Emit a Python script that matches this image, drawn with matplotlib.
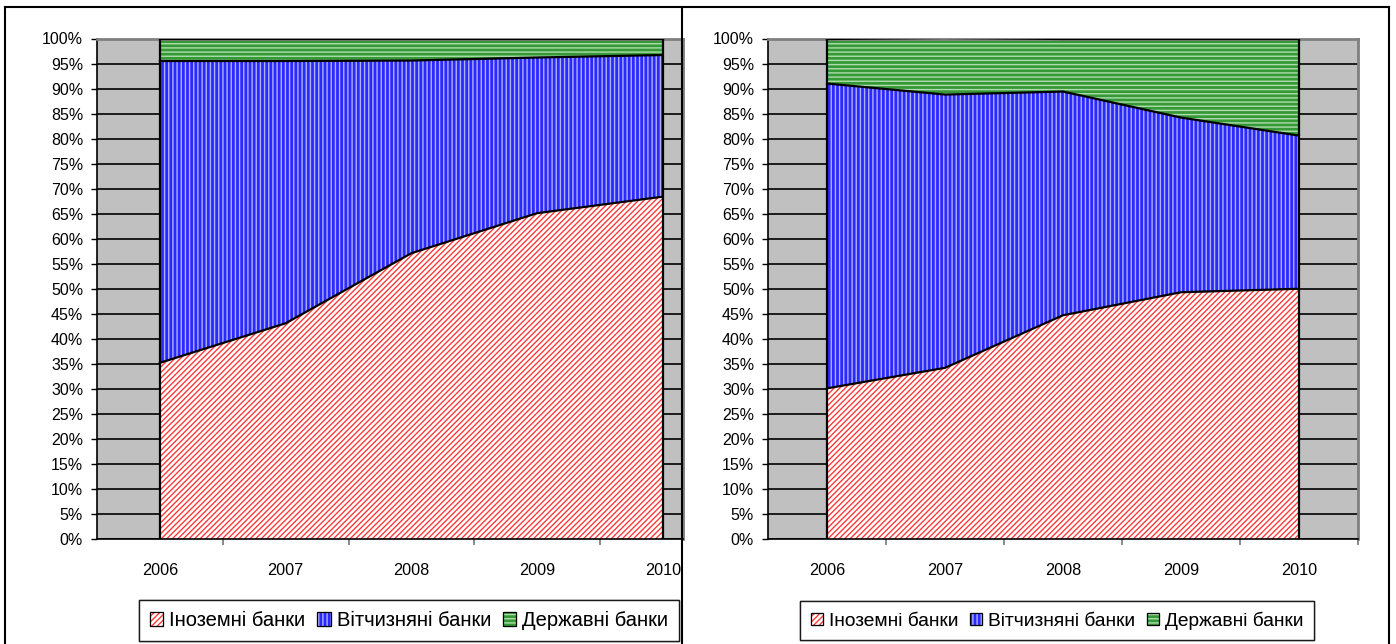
import matplotlib
matplotlib.use('Agg')
import matplotlib.pyplot as plt
import numpy as np
from matplotlib.patches import Patch, Rectangle
from matplotlib.lines import Line2D
from matplotlib.legend_handler import HandlerBase

plt.rcParams['font.family'] = ['Liberation Sans', 'DejaVu Sans']
plt.rcParams['hatch.linewidth'] = 1.0

years = ['2006', '2007', '2008', '2009', '2010']
series_names = ['Іноземні банки', 'Вітчизняні банки', 'Державні банки']

# left chart, share in %
left_foreign = [35.2, 43.1, 57.1, 65.1, 68.4]
left_domestic = [60.3, 52.4, 38.5, 31.1, 28.3]
left_state = [4.5, 4.5, 4.4, 3.8, 3.3]

# right chart, share in %
right_foreign = [30.1, 34.2, 44.7, 49.3, 50.0]
right_domestic = [60.9, 54.6, 44.7, 34.9, 30.6]
right_state = [9.0, 11.2, 10.6, 15.8, 19.4]

styles = [
    dict(facecolor='white', edgecolor='#ff3b3b', hatch='//////'),
    dict(facecolor='#2a2aff', edgecolor='#b0b0ff', hatch='||||'),
    dict(facecolor='#359a35', edgecolor='#b0dcb0', hatch='----'),
]

W, H = 1396, 644


def px_rect(x0, y0, x1, y1):
    # pixel box (top-left origin) -> figure fraction [l, b, w, h]
    return [x0 / W, 1 - y1 / H, (x1 - x0) / W, (y1 - y0) / H]


class HatchBox(HandlerBase):
    # hatched square with a thin black frame
    def create_artists(self, legend, orig_handle, xdescent, ydescent, width, height, fontsize, trans):
        fill = Rectangle((-xdescent, -ydescent), width, height, facecolor=orig_handle.get_facecolor(),
                         edgecolor=orig_handle.get_edgecolor(), hatch=orig_handle.get_hatch(),
                         linewidth=0, transform=trans)
        frame = Rectangle((-xdescent, -ydescent), width, height, facecolor='none',
                          edgecolor='black', linewidth=0.9, transform=trans)
        return [fill, frame]


def draw_chart(ax, foreign, domestic, state, xmax):
    x = np.arange(len(years))
    ax.set_facecolor('#c0c0c0')
    bottom = np.zeros(len(years))
    for vals, st in zip([foreign, domestic, state], styles):
        top = bottom + np.array(vals)
        ax.fill_between(x, bottom, top, linewidth=0, zorder=2, **st)
        ax.plot(x, top, color='black', lw=1.6, zorder=3)
        bottom = top
    ax.vlines([x[0], x[-1]], 0, [bottom[0], bottom[-1]], color='black', lw=1.6, zorder=3)

    yt = np.arange(0, 101, 5)
    ax.set_yticks(yt)
    ax.set_yticklabels([f'{v}%' for v in yt], fontsize=11.5)
    ax.yaxis.grid(True, color='black', lw=1.2)
    ax.set_axisbelow(True)
    ax.tick_params(axis='y', direction='out', length=4, width=1, pad=6, color='black')

    ax.set_xticks(x)
    ax.set_xticklabels(years, fontsize=11.7)
    ax.tick_params(axis='x', which='major', length=0, pad=17)
    ax.set_xticks(x + 0.5, minor=True)
    ax.tick_params(axis='x', which='minor', direction='out', length=4, width=1.2, color='#777777')

    ax.set_xlim(-0.5, xmax)
    ax.set_ylim(0, 100)

    for s in ['top', 'right']:
        ax.spines[s].set_color('#808080')
        ax.spines[s].set_linewidth(2)
    for s in ['left', 'bottom']:
        ax.spines[s].set_color('black')
        ax.spines[s].set_linewidth(1.2)


fig = plt.figure(figsize=(W / 100, H / 100), dpi=100)

ax1 = fig.add_axes(px_rect(97, 38.5, 683, 539))
draw_chart(ax1, left_foreign, left_domestic, left_state, -0.5 + (683 - 97) / 125.75)

ax2 = fig.add_axes(px_rect(768, 38.5, 1358, 539))
draw_chart(ax2, right_foreign, right_domestic, right_state, 4.5)

# panel frames
for xs, ys in [([5, 5], [7, H]), ([682, 682], [7, H]), ([1389, 1389], [7, H]), ([5, 1389], [7, 7])]:
    fig.add_artist(Line2D([v / W for v in xs], [1 - v / H for v in ys],
                          transform=fig.transFigure, color='black', lw=1.5, zorder=10))

handles = [Patch(**st) for st in styles]

for cx, fs in [(139, 14.5), (800, 13.8)]:
    leg = fig.legend(handles, series_names, loc='center left', bbox_to_anchor=(cx / W, 1 - 620.5 / H),
                     ncol=3, fontsize=fs, frameon=True, fancybox=False, edgecolor='black',
                     handlelength=0.65, handleheight=0.65, handletextpad=0.3, columnspacing=0.6,
                     borderpad=0.55, borderaxespad=0,
                     handler_map={Patch: HatchBox()})
    leg.get_frame().set_linewidth(1.0)
    fig.add_artist(leg)

fig.savefig('out.png', dpi=100)
